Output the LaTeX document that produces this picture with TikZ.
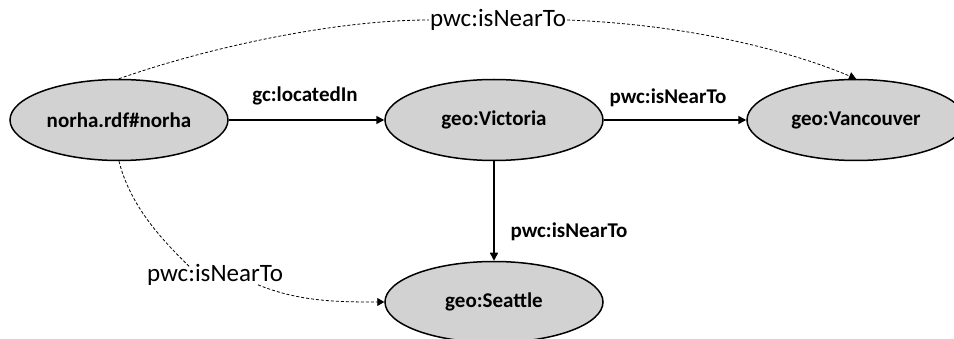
\documentclass[tikz,border=0pt]{standalone}
\usepackage{fontspec}
\setmainfont{Carlito}
\usetikzlibrary{arrows.meta,shapes.geometric}
\definecolor{nodegray}{RGB}{210,210,210}
\tikzset{
  resource/.style={ellipse, draw=black, line width=1.5pt, fill=nodegray,
    minimum width=218pt, minimum height=81pt, inner sep=0pt,
    font=\fontsize{21}{24}\selectfont\bfseries},
  rel/.style={line width=1.5pt, -{Triangle[length=8pt,width=8pt]}},
  rellabel/.style={font=\fontsize{21}{24}\selectfont\bfseries, inner sep=0pt},
  inferred/.style={line width=0.8pt, dash pattern=on 3pt off 2pt},
  inferredtip/.style={inferred, -{Triangle[length=7pt,width=8pt]}},
  inflabel/.style={font=\fontsize{25}{28}\selectfont, inner sep=1pt},
}
\begin{document}
\begin{tikzpicture}[x=1pt,y=-1pt]
  \clip (0,0) rectangle (954,339);

  % resources
  \node[resource] (norha) at (119,120) {norha.rdf\#norha};
  \node[resource] (victoria) at (494,120) {geo:Victoria};
  \node[resource] (vancouver) at (856,120) {geo:Vancouver};
  \node[resource] (seattle) at (494,302) {geo:Seattle};

  % asserted relations
  \draw[rel] (norha) -- (victoria);
  \draw[rel] (victoria) -- (vancouver);
  \draw[rel] (victoria) -- (seattle);
  \node[rellabel] (lblLocated) at (305,96) {gc:locatedIn};
  \node[rellabel] (lblNearVan) at (668,98) {pwc:isNearTo};
  \node[rellabel] (lblNearSea) at (569,232) {pwc:isNearTo};

  % inferred relations
  \node[inflabel] (topinf) at (498,20) {pwc:isNearTo};
  \node[inflabel] (botinf) at (215,275) {pwc:isNearTo};

  \draw[inferred] (norha.north) .. controls (200,50) and (330,20) .. (topinf.west);
  \draw[inferredtip] (topinf.east) .. controls (700,25) and (800,55) .. (vancouver.north);

  \draw[inferred] (norha.south) .. controls (130,205) and (160,238) .. ([xshift=-25pt,yshift=-4pt]botinf.north);
  \draw[inferredtip] ([xshift=43pt,yshift=2pt]botinf.south) .. controls (300,302) and (340,302) .. (seattle.west);
\end{tikzpicture}
\end{document}
